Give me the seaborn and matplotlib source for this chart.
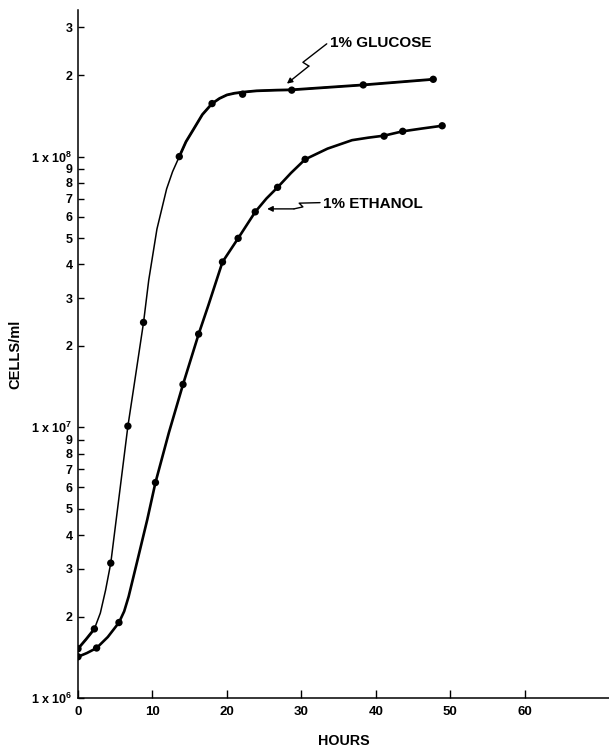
import matplotlib
matplotlib.use("Agg")
import matplotlib.pyplot as plt
import matplotlib.ticker as mticker
import pandas as pd
import seaborn as sns

# ---- data ----
glucose_hours = [0, 2.2, 4.4, 6.7, 8.8, 13.6, 18.0, 22.1, 28.7, 38.3, 47.7]
glucose_cells = [1.52e6, 1.80e6, 3.15e6, 1.01e7, 2.44e7, 1.0e8, 1.57e8, 1.70e8, 1.76e8, 1.84e8, 1.93e8]

ethanol_hours = [0, 2.5, 5.5, 10.4, 14.1, 16.2, 19.4, 21.5, 23.8, 26.8, 30.5, 41.1, 43.6, 48.9]
ethanol_cells = [1.42e6, 1.53e6, 1.90e6, 6.25e6, 1.44e7, 2.21e7, 4.08e7, 4.99e7, 6.25e7, 7.7e7, 9.77e7,
                 1.19e8, 1.24e8, 1.30e8]

# hand-drawn curve traces
glucose_curve_hours = [0, 1.1, 2.2, 3.0, 3.7, 4.4, 6.7, 7.5, 8.8, 9.5, 10.6, 11.9, 12.7,
                       13.6, 14.5, 15.5, 16.7, 18.0, 19.0, 20.0, 21.0, 22.1, 24.0, 26.7, 28.7,
                       38.3, 47.7]
glucose_curve_cells = [1.52e6, 1.65e6, 1.80e6, 2.06e6, 2.5e6, 3.15e6, 1.01e7, 1.41e7,
                       2.44e7, 3.5e7, 5.4e7, 7.6e7, 8.8e7, 1.0e8, 1.135e8, 1.26e8, 1.43e8, 1.57e8,
                       1.64e8, 1.69e8, 1.714e8, 1.73e8, 1.75e8, 1.76e8, 1.765e8, 1.84e8, 1.93e8]
ethanol_curve_hours = [0, 1.2, 2.5, 4.0, 5.5, 6.2, 6.8, 8.0, 9.3, 10.4, 12.2, 14.1, 16.2, 17.5,
                       19.4, 21.5, 23.8, 25.3, 26.8, 28.6, 30.5, 33.5, 36.8, 39.0, 41.1, 43.6,
                       46.2, 48.9]
ethanol_curve_cells = [1.42e6, 1.466e6, 1.53e6, 1.68e6, 1.90e6, 2.09e6, 2.37e6, 3.24e6, 4.56e6,
                       6.25e6, 9.55e6, 1.44e7, 2.21e7, 2.82e7, 4.08e7, 4.99e7, 6.25e7,
                       7.0e7, 7.7e7, 8.7e7, 9.77e7, 1.07e8, 1.15e8, 1.175e8, 1.195e8, 1.24e8,
                       1.27e8, 1.30e8]

x_ticks = [0, 10, 20, 30, 40, 50, 60]
y_major = [1e6, 1e7, 1e8]
y_major_labels = [r"1 x $10^{6}$", r"1 x $10^{7}$", r"1 x $10^{8}$"]
y_minor = [2e6, 3e6, 4e6, 5e6, 6e6, 7e6, 8e6, 9e6,
           2e7, 3e7, 4e7, 5e7, 6e7, 7e7, 8e7, 9e7,
           2e8, 3e8]
y_minor_labels = ["2", "3", "4", "5", "6", "7", "8", "9",
                  "2", "3", "4", "5", "6", "7", "8", "9",
                  "2", "3"]

# ---- style ----
sns.set_style("ticks")
plt.rcParams["font.family"] = ["Liberation Sans", "DejaVu Sans"]
plt.rcParams["font.weight"] = "bold"
plt.rcParams["text.color"] = "black"
plt.rcParams["axes.labelcolor"] = "black"
plt.rcParams["mathtext.fontset"] = "custom"
plt.rcParams["mathtext.rm"] = "Liberation Sans:bold"
plt.rcParams["mathtext.it"] = "Liberation Sans:bold"
plt.rcParams["mathtext.bf"] = "Liberation Sans:bold"

fig = plt.figure(figsize=(6.09, 7.47), dpi=100)
ax = fig.add_axes([78 / 609, 49 / 747, 531 / 609, 688 / 747])

gdf = pd.DataFrame({"h": glucose_curve_hours, "c": glucose_curve_cells})
edf = pd.DataFrame({"h": ethanol_curve_hours, "c": ethanol_curve_cells})

# glucose: thin in the steep part, heavier at start and plateau
sns.lineplot(data=gdf, x="h", y="c", sort=False, estimator=None, color="black", lw=1.1, ax=ax)
sns.lineplot(data=gdf.iloc[:3], x="h", y="c", sort=False, estimator=None, color="black", lw=2.0, ax=ax)
sns.lineplot(data=gdf.iloc[13:], x="h", y="c", sort=False, estimator=None, color="black", lw=2.0, ax=ax)
# ethanol
sns.lineplot(data=edf, x="h", y="c", sort=False, estimator=None, color="black", lw=1.9, ax=ax)

sns.scatterplot(x=glucose_hours, y=glucose_cells, color="black", s=28, edgecolor="none", ax=ax, zorder=5)
sns.scatterplot(x=ethanol_hours, y=ethanol_cells, color="black", s=28, edgecolor="none", ax=ax, zorder=5)

ax.set_yscale("log")
ax.set_xlim(0, 71.3)
ax.set_ylim(1e6, 3.48e8)

ax.xaxis.set_major_locator(mticker.FixedLocator(x_ticks))
ax.yaxis.set_major_locator(mticker.FixedLocator(y_major))
ax.yaxis.set_major_formatter(mticker.FixedFormatter(y_major_labels))
ax.yaxis.set_minor_locator(mticker.FixedLocator(y_minor))
ax.yaxis.set_minor_formatter(mticker.FixedFormatter(y_minor_labels))
ax.xaxis.set_minor_locator(mticker.NullLocator())

ax.tick_params(axis="x", which="major", direction="in", length=6, width=1.0, pad=6,
               labelsize=9.5, colors="black")
ax.tick_params(axis="y", which="both", direction="in", length=4.5, width=1.0, pad=4,
               labelsize=9, colors="black")
for lab in ax.get_xticklabels() + ax.get_yticklabels() + ax.get_yticklabels(minor=True):
    lab.set_fontweight("bold")

for side in ["top", "right"]:
    ax.spines[side].set_visible(False)
for side in ["left", "bottom"]:
    ax.spines[side].set_linewidth(1.1)
    ax.spines[side].set_color("black")

ax.set_xlabel("HOURS", fontsize=10.3, fontweight="bold", labelpad=11)
ax.set_ylabel("CELLS/ml", fontsize=10.5, fontweight="bold", labelpad=6)

# ---- annotations with lightning arrows ----
ax.plot([33.4, 30.2, 31.0], [2.61e8, 2.23e8, 2.16e8], color="black", lw=1.0)
ax.annotate("", xy=(28.05, 1.86e8), xytext=(31.0, 2.16e8),
            arrowprops=dict(arrowstyle="-|>", color="black", lw=1.0, mutation_scale=8,
                            shrinkA=0, shrinkB=0))
ax.text(33.8, 2.62e8, "1% GLUCOSE", fontsize=11, fontweight="bold", va="center", ha="left")

ax.plot([32.5, 29.7, 30.2, 29.0], [6.76e7, 6.73e7, 6.52e7, 6.41e7], color="black", lw=1.0)
ax.annotate("", xy=(25.4, 6.41e7), xytext=(29.0, 6.41e7),
            arrowprops=dict(arrowstyle="-|>", color="black", lw=1.0, mutation_scale=8,
                            shrinkA=0, shrinkB=0))
ax.text(32.9, 6.7e7, "1% ETHANOL", fontsize=11, fontweight="bold", va="center", ha="left")

fig.savefig("out.png", dpi=100)
